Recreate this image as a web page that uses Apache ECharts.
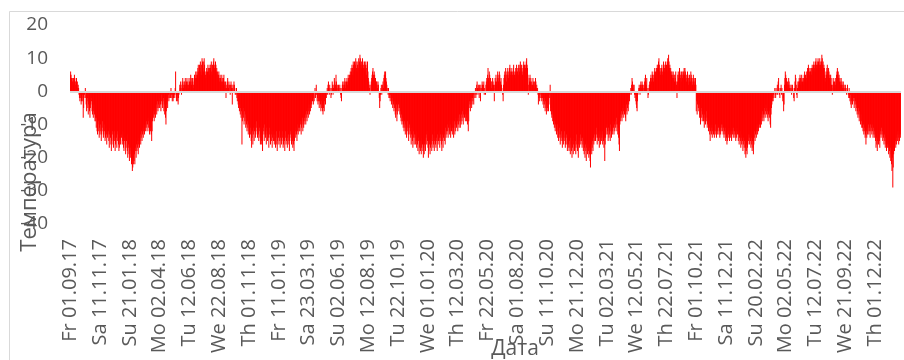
<!DOCTYPE html>
<html>
<head>
<meta charset="utf-8">
<script src="https://cdn.jsdelivr.net/npm/echarts@6/dist/echarts.min.js"></script>
<style>
  html, body { margin: 0; padding: 0; background: #ffffff; }
  #chart { width: 904px; height: 360px; }
</style>
</head>
<body>
<div id="chart"></div>
<script>
// Daily mean air temperature, °C, one value per day starting 01.09.2017
const temp2017 = [ // Sep–Dec 2017
  5,6,5,4,3,4,3,2,4,3,5,4,3,2,3,4,2,3,1,2,1,-1,-2,-3,-1,-2,-4,-3,-2,-1,
  -3,-8,-5,-2,-1,0,1,-2,-4,-6,-3,-2,-5,-7,-4,-3,-6,-8,-5,-4,-2,-3,-6,-7,-5,-8,-6,-4,-7,-9,-8,
  -9,-11,-8,-12,-13,-10,-9,-12,-14,-11,-13,-10,-12,-15,-13,-11,-9,-12,-14,-13,-10,-12,-15,-14,-11,-13,-16,-12,-14,-13,
  -12,-15,-17,-13,-11,-14,-16,-18,-15,-13,-12,-16,-17,-14,-12,-15,-18,-16,-13,-14,-17,-15,-12,-13,-16,-18,-17,-14,-15,-16,-13
];
const temp2018 = [
  -14,-13,-16,-15,-12,-17,-18,-15,-14,-16,-19,-17,-15,-13,-18,-20,-17,-16,-19,-21,-18,-17,-20,-19,-22,-21,-24,-23,-20,-22,-21,
  -19,-22,-17,-18,-20,-16,-18,-17,-15,-19,-16,-14,-17,-15,-13,-16,-14,-12,-15,-13,-11,-14,-12,-10,-13,-11,-12,-10,
  -11,-9,-12,-10,-8,-11,-9,-12,-13,-10,-12,-11,-13,-15,-12,-9,-7,-8,-6,-9,-7,-5,-8,-6,-4,-7,-5,-3,-6,-4,-5,
  -3,-5,-2,-4,-6,-3,-1,-4,-5,-3,-2,-6,-4,-7,-5,-8,-10,-6,-4,-3,-5,-2,-1,-3,-2,0,-1,-2,1,-1,
  -2,-3,-1,-3,-2,0,-1,-2,1,6,-1,-3,-2,-1,-3,-4,-2,-1,0,2,1,3,2,-1,1,3,4,2,1,3,2,
  3,4,2,1,3,4,2,3,1,2,4,3,2,3,5,4,2,3,4,3,1,2,4,5,3,4,6,5,4,6,
  5,7,8,6,4,8,7,9,6,5,8,10,9,7,6,9,10,8,6,5,4,6,7,5,6,8,7,6,5,7,8,
  7,8,9,6,5,8,7,9,10,8,7,6,9,8,6,7,5,6,4,5,6,4,3,5,4,2,3,5,4,3,2,
  4,5,3,2,1,3,-2,1,2,3,4,2,1,3,2,0,-1,2,3,1,2,-4,1,2,0,3,2,1,-1,0,
  -1,1,-2,-3,-1,-4,-5,-3,-6,-4,-7,-5,-8,-6,-16,-9,-7,-5,-8,-10,-6,-9,-7,-11,-8,-10,-12,-9,-11,-13,-10,
  -12,-14,-10,-13,-11,-15,-17,-14,-12,-16,-13,-11,-15,-12,-10,-14,-13,-11,-9,-12,-14,-10,-13,-15,-12,-11,-14,-16,-13,-15,
  -16,-14,-18,-13,-11,-12,-15,-10,-13,-14,-12,-16,-11,-13,-15,-12,-14,-17,-13,-11,-14,-16,-12,-15,-13,-17,-14,-12,-15,-13,-16
];
const temp2019 = [
  -15,-13,-17,-14,-12,-16,-18,-15,-13,-14,-16,-12,-15,-17,-14,-13,-16,-15,-12,-14,-17,-16,-13,-15,-18,-14,-12,-16,-15,-13,-17,
  -14,-16,-13,-15,-18,-15,-13,-12,-14,-16,-13,-15,-17,-14,-16,-18,-15,-13,-12,-14,-11,-13,-15,-12,-10,-13,-11,-12,
  -11,-12,-10,-9,-13,-11,-10,-8,-12,-9,-11,-10,-8,-9,-7,-10,-8,-6,-9,-7,-5,-8,-6,-4,-7,-5,-6,-3,-5,-4,-2,
  -3,-1,-4,-2,-3,0,1,-2,-1,2,-1,-3,-2,-4,-3,-1,-5,-3,-2,-4,-6,-5,-3,-4,-6,-7,-5,-4,-6,-3,
  -2,-4,-1,-2,0,1,-1,2,3,1,-1,2,1,0,-2,-1,1,3,2,-1,1,2,4,3,1,2,5,3,1,2,0,
  1,2,1,0,2,1,-1,-2,-3,1,2,3,2,1,3,2,4,3,1,2,3,4,2,3,5,4,3,5,4,6,
  5,7,6,8,7,5,9,8,6,9,7,8,10,9,7,6,8,9,7,10,8,9,11,10,8,7,9,8,10,9,7,
  8,7,9,6,8,9,7,5,8,9,6,4,3,2,1,-1,0,2,3,4,5,6,7,5,4,6,5,3,4,2,3,
  3,2,1,3,2,0,-2,-5,-3,-1,1,2,-1,0,2,3,1,4,5,6,5,6,4,3,2,1,0,-1,1,-2,
  -1,-2,-3,-1,-2,-4,-3,-2,-5,-3,-4,-6,-5,-3,-7,-8,-6,-4,-9,-7,-5,-6,-4,-3,-5,-7,-6,-8,-9,-7,-10,
  -9,-8,-11,-10,-12,-9,-11,-13,-10,-12,-14,-11,-9,-12,-13,-15,-11,-10,-13,-12,-14,-16,-13,-11,-15,-17,-14,-12,-16,-13,
  -14,-16,-13,-15,-17,-12,-16,-18,-15,-14,-19,-17,-16,-18,-15,-19,-17,-14,-16,-18,-20,-17,-19,-16,-15,-18,-14,-13,-16,-12,-15
];
const temp2020 = [
  -17,-20,-18,-15,-16,-19,-17,-14,-16,-18,-15,-13,-17,-16,-14,-18,-15,-12,-16,-17,-14,-15,-18,-13,-16,-15,-12,-14,-17,-15,-13,
  -14,-16,-18,-15,-13,-17,-14,-12,-15,-13,-16,-11,-14,-12,-13,-10,-12,-14,-11,-9,-13,-12,-10,-14,-11,-12,-9,-13,-11,
  -12,-14,-11,-9,-13,-10,-12,-8,-11,-10,-9,-12,-8,-10,-11,-7,-9,-11,-8,-10,-7,-9,-6,-8,-10,-7,-5,-8,-6,-9,-7,
  -8,-9,-6,-10,-7,-12,-9,-5,-3,-4,-6,-3,-2,-5,-4,-2,-3,-1,-4,-2,0,-1,1,-2,-1,2,3,1,-1,2,
  1,-2,2,1,-3,2,1,0,3,2,1,2,3,-1,1,0,-1,2,3,4,2,5,7,4,3,6,5,2,4,3,1,
  3,2,4,3,2,1,-3,2,4,3,5,3,2,4,6,5,3,4,6,5,2,3,4,2,1,0,-1,-3,2,4,
  5,6,4,7,5,3,6,5,7,6,4,5,7,8,6,5,7,6,4,5,6,7,8,6,5,4,6,7,5,8,6,
  6,7,5,8,7,6,8,9,7,6,8,7,5,6,8,9,7,8,6,7,8,9,10,8,7,5,-1,2,4,3,5,
  3,4,2,3,1,2,4,3,2,1,3,2,4,3,1,2,0,1,-1,-4,-2,-1,-3,-2,0,-1,-2,-3,-1,-2,
  -4,-3,-5,-2,-4,-6,-3,-5,-7,-4,-6,-5,-3,-6,-4,-2,-1,2,-6,-5,-7,-8,-6,-9,-7,-10,-8,-11,-9,-12,-10,
  -11,-13,-12,-10,-14,-12,-15,-13,-11,-14,-16,-13,-15,-12,-14,-17,-15,-13,-16,-14,-12,-15,-17,-16,-14,-13,-16,-18,-15,-17,
  -16,-18,-15,-17,-19,-14,-16,-18,-20,-17,-15,-19,-16,-14,-18,-17,-15,-19,-16,-13,-17,-18,-15,-20,-16,-14,-17,-15,-13,-16,-14
];
const temp2021 = [
  -15,-17,-14,-16,-18,-15,-19,-17,-20,-16,-18,-21,-17,-15,-19,-16,-18,-20,-17,-19,-21,-23,-18,-16,-19,-17,-15,-18,-14,-16,-15,
  -13,-12,-15,-14,-11,-13,-16,-14,-12,-15,-13,-17,-14,-12,-16,-13,-15,-14,-12,-16,-13,-15,-17,-14,-21,-16,-14,-13,
  -11,-10,-13,-12,-15,-11,-14,-13,-12,-15,-10,-12,-14,-11,-13,-12,-9,-11,-13,-10,-12,-9,-11,-10,-8,-12,-10,-13,-11,-14,-16,
  -18,-10,-9,-7,-8,-6,-9,-7,-5,-8,-6,-4,-7,-5,-8,-9,-6,-4,-7,-5,-3,-6,-4,-2,-3,-1,0,1,-1,2,
  4,3,1,2,0,2,-1,-2,-1,-3,-4,-5,-6,-3,-1,0,1,2,1,-1,2,3,1,2,3,2,1,0,2,1,3,
  4,5,3,2,4,1,0,-2,-1,1,2,3,2,4,5,3,4,6,5,4,3,5,6,7,5,6,4,7,6,8,
  7,8,9,10,8,6,7,5,6,7,8,6,5,7,9,8,7,6,8,9,7,8,6,9,10,8,11,9,7,8,6,
  7,6,5,6,4,5,6,4,5,3,5,4,6,3,2,-2,3,5,6,4,5,7,6,4,5,3,6,5,4,6,5,
  6,7,5,7,6,4,5,3,4,6,5,4,2,3,5,4,3,6,5,4,3,2,4,5,3,4,2,3,4,2,
  -6,-3,-7,-4,-2,-5,-6,-4,-8,-7,-10,-6,-5,-8,-9,-7,-6,-9,-8,-11,-7,-9,-10,-8,-6,-9,-11,-10,-8,-12,-9,
  -11,-13,-15,-12,-10,-13,-11,-14,-12,-10,-13,-11,-14,-12,-13,-10,-12,-14,-11,-13,-12,-10,-11,-13,-12,-14,-11,-13,-12,-10,
  -11,-12,-10,-13,-11,-14,-12,-13,-11,-15,-13,-14,-16,-15,-12,-14,-13,-11,-15,-12,-14,-13,-12,-15,-11,-13,-12,-14,-11,-13,-12
];
const temp2022 = [
  -14,-13,-15,-12,-14,-11,-13,-12,-15,-13,-16,-14,-12,-15,-17,-14,-16,-13,-15,-18,-16,-14,-17,-15,-19,-17,-20,-18,-16,-19,-17,
  -16,-15,-13,-14,-16,-13,-15,-17,-14,-16,-18,-15,-17,-19,-16,-14,-12,-15,-13,-11,-14,-12,-10,-13,-11,-12,-10,-11,
  -10,-9,-11,-8,-10,-7,-9,-6,-8,-7,-9,-5,-7,-8,-6,-4,-7,-5,-8,-6,-9,-7,-5,-8,-6,-10,-11,-7,-5,-4,-3,
  -2,-3,-1,-2,0,1,-1,-2,1,0,-1,2,-1,3,4,1,-1,-2,0,1,2,-1,1,0,-3,-2,-6,-4,2,4,
  6,5,3,4,2,3,1,2,4,3,1,2,0,1,2,-1,1,2,1,0,-2,-3,1,3,5,4,2,-1,-2,1,3,
  2,3,4,3,5,4,2,3,5,4,3,2,4,3,5,6,4,5,3,4,6,5,7,6,8,7,5,6,7,6,
  6,7,5,8,7,6,8,9,7,8,6,9,10,8,7,9,8,10,9,7,8,10,9,8,7,9,11,10,8,9,7,
  8,7,5,3,4,6,5,7,8,6,5,7,6,4,5,3,5,4,2,1,-1,2,4,3,2,3,1,4,2,3,5,
  6,7,5,6,4,5,3,4,2,3,4,2,3,1,2,3,1,2,0,1,2,1,0,-1,1,2,0,-1,-2,1,
  -2,-3,-1,-4,-5,-3,-2,-4,-1,-2,-3,-5,-2,-4,-3,-6,-4,-5,-7,-6,-8,-5,-7,-9,-6,-8,-10,-7,-9,-11,-10,
  -11,-12,-10,-13,-12,-11,-14,-13,-16,-12,-14,-11,-13,-12,-10,-13,-11,-12,-14,-10,-12,-11,-13,-10,-12,-14,-11,-13,-12,-14,
  -13,-15,-17,-14,-16,-18,-15,-13,-16,-14,-15,-17,-13,-12,-14,-11,-13,-12,-15,-13,-14,-16,-13,-15,-17,-14,-16,-18,-15,-17,-16
];
const temp2023 = [ // January 2023
  -17,-19,-16,-18,-20,-17,-21,-19,-22,-24,-20,-29,-23,-19,-17,-18,-16,-15,-17,-14,-16,-13,-15,-12,-14,-16,-13,-15,-12,-14,-13
];

const startDate = [2017, 8, 1];                 // 01.09.2017 (month is 0-based)
const dayNames = ['Su', 'Mo', 'Tu', 'We', 'Th', 'Fr', 'Sa'];
const yTicks = { min: -40, max: 20, step: 10 };
const xTitle = 'Дата';
const yTitle = 'Температура';

const values = [].concat(temp2017, temp2018, temp2019, temp2020, temp2021, temp2022, temp2023);

// One category per day, labelled like "Fr 01.09.17"
const pad = n => (n < 10 ? '0' : '') + n;
const t0 = Date.UTC(startDate[0], startDate[1], startDate[2]);
const days = values.map((_, i) => {
  const d = new Date(t0 + i * 86400000);
  return dayNames[d.getUTCDay()] + ' ' + pad(d.getUTCDate()) + '.' +
    pad(d.getUTCMonth() + 1) + '.' + pad(d.getUTCFullYear() % 100);
});

const textColor = '#595959';
const fontFamily = '"Open Sans", "Liberation Sans", sans-serif';

const chart = echarts.init(document.getElementById('chart'), null, { renderer: 'canvas' });
chart.setOption({
  animation: false,
  backgroundColor: '#ffffff',
  grid: { left: 70, right: 3, top: 25, height: 199 },
  xAxis: {
    type: 'category',
    data: days,
    boundaryGap: true,
    axisLine: { show: false, onZero: false },
    axisTick: { show: false },
    splitLine: { show: false },
    axisLabel: {
      interval: 70,
      rotate: 90,
      margin: 15,
      color: textColor,
      fontFamily: fontFamily,
      fontSize: 20
    }
  },
  yAxis: {
    type: 'value',
    min: yTicks.min,
    max: yTicks.max,
    interval: yTicks.step,
    axisLine: { show: false },
    axisTick: { show: false },
    splitLine: { show: false },
    axisLabel: {
      margin: 22,
      color: textColor,
      fontFamily: fontFamily,
      fontSize: 19
    }
  },
  series: [{
    type: 'bar',
    data: values,
    barWidth: 0.5,
    barMinWidth: 0,
    itemStyle: { color: '#ff0000' },
    markLine: {
      silent: true,
      symbol: 'none',
      label: { show: false },
      lineStyle: { color: '#d9d9d9', width: 2, type: 'solid' },
      data: [{ yAxis: 0 }]
    }
  }],
  graphic: [
    {
      type: 'rect',
      shape: { x: 9.5, y: 11.5, width: 1000, height: 1000 },
      style: { fill: 'none', stroke: '#d9d9d9', lineWidth: 1 },
      silent: true
    },
    {
      type: 'text',
      x: 30, y: 182,
      rotation: Math.PI / 2,
      style: {
        text: yTitle, fill: textColor, font: '22px ' + fontFamily,
        align: 'center', verticalAlign: 'middle'
      },
      silent: true
    },
    {
      type: 'text',
      x: 515, y: 349,
      style: {
        text: xTitle, fill: textColor, font: '21px ' + fontFamily,
        align: 'center', verticalAlign: 'middle'
      },
      silent: true
    }
  ]
});
</script>
</body>
</html>
